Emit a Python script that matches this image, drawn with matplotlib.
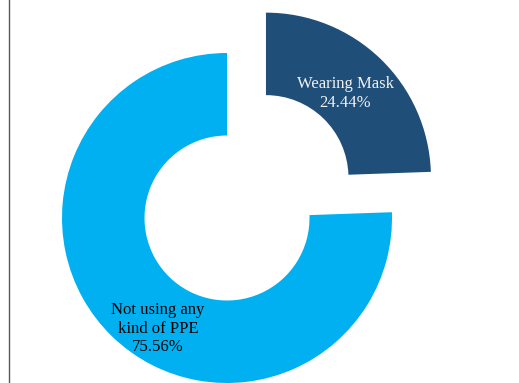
import numpy as np
import matplotlib.pyplot as plt
from matplotlib.lines import Line2D

# Share of people by protective equipment use
categories = ["Wearing Mask", "Not using any\nkind of PPE"]
shares = [24.44, 75.56]
colors = ["#1F4E79", "#00B0F0"]
text_colors = ["#F2F2F2", "black"]
explode = [0.34, 0.0]

plt.rcParams['font.family'] = ['Liberation Serif', 'DejaVu Serif']

fig = plt.figure(figsize=(5.19, 3.83), dpi=100)
ax = fig.add_axes([0, 0, 1, 1])

wedges, _ = ax.pie(shares, colors=colors, explode=explode, startangle=90,
                   counterclock=False, radius=1.0,
                   wedgeprops=dict(width=0.5, linewidth=0))

# label each ring segment, best-fit placement around the ring
label_angles = [46.7, 238.0]
label_radius = [0.70, 0.79]
for w, name, val, ang, r, tc in zip(wedges, categories, shares, label_angles,
                                    label_radius, text_colors):
    cx, cy = w.center
    x = cx + r * np.cos(np.radians(ang))
    y = cy + r * np.sin(np.radians(ang))
    ax.text(x, y, f"{name}\n{val:.2f}%", ha='center', va='center',
            fontsize=12, color=tc, linespacing=1.22)

ax.set_xlim(-227 / 165, 292 / 165)
ax.set_ylim(-1.0, 218 / 165)
ax.set_aspect('equal')
ax.axis('off')

# frame edge on the left
fig.add_artist(Line2D([8.5 / 519, 8.5 / 519], [0, 1], color='#595959', lw=1.0))

fig.savefig("out.png", dpi=100)
